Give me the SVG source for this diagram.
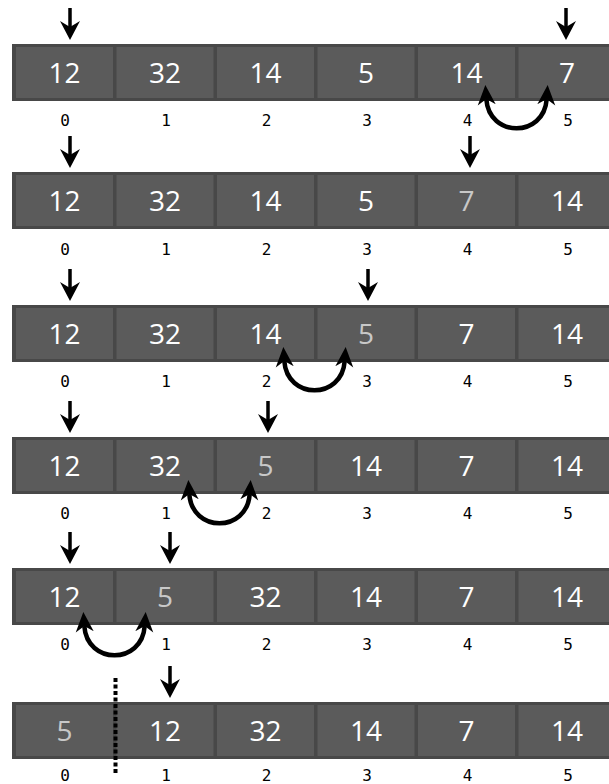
<svg xmlns="http://www.w3.org/2000/svg" width="609" height="784" viewBox="0 0 609 784">
<style>
.frame{fill:#484848}
.cell{fill:#5b5b5b}
.v{font-family:"Open Sans","Liberation Sans",sans-serif;font-size:28px;fill:#ffffff;text-anchor:middle}
.g{fill:#c8c8c8}
.idx{font-family:"DejaVu Sans Mono","Liberation Mono",monospace;font-size:16px;fill:#000;text-anchor:middle}
.shaft{stroke:#000;stroke-width:3.5;fill:none}
.head{fill:#000}
.swap{stroke:#000;stroke-width:4.5;fill:none;marker-start:url(#sh);marker-end:url(#sh)}
.dots{stroke:#000;stroke-width:4;stroke-dasharray:4 2.5;fill:none}
</style>
<defs>
<marker id="sh" markerUnits="userSpaceOnUse" markerWidth="22" markerHeight="20" viewBox="0 0 22 20" refX="6" refY="10" orient="auto-start-reverse">
<path d="M0,1 L20,10 L0,19 L6,10 Z" fill="#000"/>
</marker>
</defs>

<!-- Row 1 -->
<g id="row1">
<rect class="frame" x="12" y="44" width="620" height="57"/>
<g id="r1c0"><rect class="cell" x="16" y="47" width="97" height="51"/><text class="v" x="64.5" y="83">12</text></g>
<g id="r1c1"><rect class="cell" x="116.5" y="47" width="97" height="51"/><text class="v" x="165" y="83">32</text></g>
<g id="r1c2"><rect class="cell" x="217" y="47" width="97" height="51"/><text class="v" x="265.5" y="83">14</text></g>
<g id="r1c3"><rect class="cell" x="317.5" y="47" width="97" height="51"/><text class="v" x="366" y="83">5</text></g>
<g id="r1c4"><rect class="cell" x="418" y="47" width="97" height="51"/><text class="v" x="466.5" y="83">14</text></g>
<g id="r1c5"><rect class="cell" x="518.5" y="47" width="97" height="51"/><text class="v" x="567" y="83">7</text></g>
<text class="idx" x="65" y="126">0</text><text class="idx" x="166" y="126">1</text><text class="idx" x="266.5" y="126">2</text><text class="idx" x="367" y="126">3</text><text class="idx" x="467.5" y="126">4</text><text class="idx" x="568" y="126">5</text>
</g>

<!-- Row 2 -->
<g id="row2">
<rect class="frame" x="12" y="172" width="620" height="57"/>
<g id="r2c0"><rect class="cell" x="16" y="175" width="97" height="51"/><text class="v" x="64.5" y="211">12</text></g>
<g id="r2c1"><rect class="cell" x="116.5" y="175" width="97" height="51"/><text class="v" x="165" y="211">32</text></g>
<g id="r2c2"><rect class="cell" x="217" y="175" width="97" height="51"/><text class="v" x="265.5" y="211">14</text></g>
<g id="r2c3"><rect class="cell" x="317.5" y="175" width="97" height="51"/><text class="v" x="366" y="211">5</text></g>
<g id="r2c4"><rect class="cell" x="418" y="175" width="97" height="51"/><text class="v g" x="466.5" y="211">7</text></g>
<g id="r2c5"><rect class="cell" x="518.5" y="175" width="97" height="51"/><text class="v" x="567" y="211">14</text></g>
<text class="idx" x="65" y="255">0</text><text class="idx" x="166" y="255">1</text><text class="idx" x="266.5" y="255">2</text><text class="idx" x="367" y="255">3</text><text class="idx" x="467.5" y="255">4</text><text class="idx" x="568" y="255">5</text>
</g>

<!-- Row 3 -->
<g id="row3">
<rect class="frame" x="12" y="305" width="620" height="57"/>
<g id="r3c0"><rect class="cell" x="16" y="308" width="97" height="51"/><text class="v" x="64.5" y="344">12</text></g>
<g id="r3c1"><rect class="cell" x="116.5" y="308" width="97" height="51"/><text class="v" x="165" y="344">32</text></g>
<g id="r3c2"><rect class="cell" x="217" y="308" width="97" height="51"/><text class="v" x="265.5" y="344">14</text></g>
<g id="r3c3"><rect class="cell" x="317.5" y="308" width="97" height="51"/><text class="v g" x="366" y="344">5</text></g>
<g id="r3c4"><rect class="cell" x="418" y="308" width="97" height="51"/><text class="v" x="466.5" y="344">7</text></g>
<g id="r3c5"><rect class="cell" x="518.5" y="308" width="97" height="51"/><text class="v" x="567" y="344">14</text></g>
<text class="idx" x="65" y="387">0</text><text class="idx" x="166" y="387">1</text><text class="idx" x="266.5" y="387">2</text><text class="idx" x="367" y="387">3</text><text class="idx" x="467.5" y="387">4</text><text class="idx" x="568" y="387">5</text>
</g>

<!-- Row 4 -->
<g id="row4">
<rect class="frame" x="12" y="437" width="620" height="57"/>
<g id="r4c0"><rect class="cell" x="16" y="440" width="97" height="51"/><text class="v" x="64.5" y="476">12</text></g>
<g id="r4c1"><rect class="cell" x="116.5" y="440" width="97" height="51"/><text class="v" x="165" y="476">32</text></g>
<g id="r4c2"><rect class="cell" x="217" y="440" width="97" height="51"/><text class="v g" x="265.5" y="476">5</text></g>
<g id="r4c3"><rect class="cell" x="317.5" y="440" width="97" height="51"/><text class="v" x="366" y="476">14</text></g>
<g id="r4c4"><rect class="cell" x="418" y="440" width="97" height="51"/><text class="v" x="466.5" y="476">7</text></g>
<g id="r4c5"><rect class="cell" x="518.5" y="440" width="97" height="51"/><text class="v" x="567" y="476">14</text></g>
<text class="idx" x="65" y="519">0</text><text class="idx" x="166" y="519">1</text><text class="idx" x="266.5" y="519">2</text><text class="idx" x="367" y="519">3</text><text class="idx" x="467.5" y="519">4</text><text class="idx" x="568" y="519">5</text>
</g>

<!-- Row 5 -->
<g id="row5">
<rect class="frame" x="12" y="568" width="620" height="57"/>
<g id="r5c0"><rect class="cell" x="16" y="571" width="97" height="51"/><text class="v" x="64.5" y="607">12</text></g>
<g id="r5c1"><rect class="cell" x="116.5" y="571" width="97" height="51"/><text class="v g" x="165" y="607">5</text></g>
<g id="r5c2"><rect class="cell" x="217" y="571" width="97" height="51"/><text class="v" x="265.5" y="607">32</text></g>
<g id="r5c3"><rect class="cell" x="317.5" y="571" width="97" height="51"/><text class="v" x="366" y="607">14</text></g>
<g id="r5c4"><rect class="cell" x="418" y="571" width="97" height="51"/><text class="v" x="466.5" y="607">7</text></g>
<g id="r5c5"><rect class="cell" x="518.5" y="571" width="97" height="51"/><text class="v" x="567" y="607">14</text></g>
<text class="idx" x="65" y="650">0</text><text class="idx" x="166" y="650">1</text><text class="idx" x="266.5" y="650">2</text><text class="idx" x="367" y="650">3</text><text class="idx" x="467.5" y="650">4</text><text class="idx" x="568" y="650">5</text>
</g>

<!-- Row 6 -->
<g id="row6">
<rect class="frame" x="12" y="702" width="620" height="57"/>
<g id="r6c0"><rect class="cell" x="16" y="705" width="97" height="51"/><text class="v g" x="64.5" y="741">5</text></g>
<g id="r6c1"><rect class="cell" x="116.5" y="705" width="97" height="51"/><text class="v" x="165" y="741">12</text></g>
<g id="r6c2"><rect class="cell" x="217" y="705" width="97" height="51"/><text class="v" x="265.5" y="741">32</text></g>
<g id="r6c3"><rect class="cell" x="317.5" y="705" width="97" height="51"/><text class="v" x="366" y="741">14</text></g>
<g id="r6c4"><rect class="cell" x="418" y="705" width="97" height="51"/><text class="v" x="466.5" y="741">7</text></g>
<g id="r6c5"><rect class="cell" x="518.5" y="705" width="97" height="51"/><text class="v" x="567" y="741">14</text></g>
<text class="idx" x="65" y="781">0</text><text class="idx" x="166" y="781">1</text><text class="idx" x="266.5" y="781">2</text><text class="idx" x="367" y="781">3</text><text class="idx" x="467.5" y="781">4</text><text class="idx" x="568" y="781">5</text>
</g>

<g id="connectors">
<g id="pointers">
<path class="shaft" d="M70,8 V28"/><path class="head" d="M60,21 L70,40 L80,21 L70,27 Z"/>
<path class="shaft" d="M566,8 V28"/><path class="head" d="M556,21 L566,40 L576,21 L566,27 Z"/>

<path class="shaft" d="M70,136 V156"/><path class="head" d="M60,149 L70,168 L80,149 L70,155 Z"/>
<path class="shaft" d="M470,136 V156"/><path class="head" d="M460,149 L470,168 L480,149 L470,155 Z"/>

<path class="shaft" d="M70,269 V289"/><path class="head" d="M60,282 L70,301 L80,282 L70,288 Z"/>
<path class="shaft" d="M368,269 V289"/><path class="head" d="M358,282 L368,301 L378,282 L368,288 Z"/>

<path class="shaft" d="M70,401 V421"/><path class="head" d="M60,414 L70,433 L80,414 L70,420 Z"/>
<path class="shaft" d="M268,401 V421"/><path class="head" d="M258,414 L268,433 L278,414 L268,420 Z"/>

<path class="shaft" d="M70,532 V552"/><path class="head" d="M60,545 L70,564 L80,545 L70,551 Z"/>
<path class="shaft" d="M170,532 V552"/><path class="head" d="M160,545 L170,564 L180,545 L170,551 Z"/>

<path class="shaft" d="M170,666 V686"/><path class="head" d="M160,679 L170,698 L180,679 L170,685 Z"/>
</g>
<g id="swaps">
<path class="swap" d="M486.3,99 C489,138 544,138 546.7,99"/>
<path class="swap" d="M284.3,361 C287,400 342,400 344.7,361"/>
<path class="swap" d="M189.3,494 C192,533 247,533 249.7,494"/>
<path class="swap" d="M84.3,626 C87,665 142,665 144.7,626"/>
</g>
<line id="divider" class="dots" x1="115.5" y1="678" x2="115.5" y2="773"/>
</g>
</svg>
